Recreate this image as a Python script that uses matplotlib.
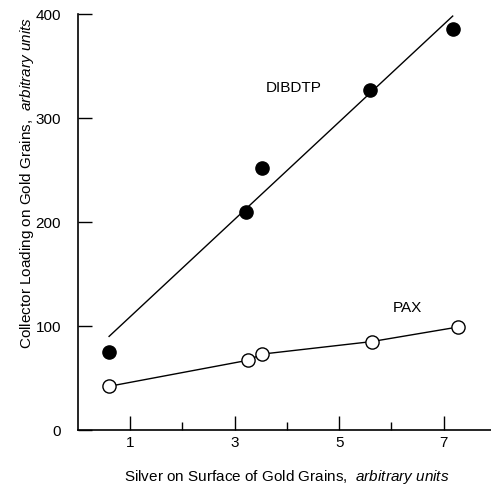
import matplotlib
matplotlib.use("Agg")
import matplotlib.pyplot as plt
import numpy as np

plt.rcParams['font.family'] = ['Liberation Sans', 'DejaVu Sans']
plt.rcParams['mathtext.fontset'] = 'custom'
plt.rcParams['mathtext.rm'] = 'Liberation Sans'
plt.rcParams['mathtext.it'] = 'Liberation Sans:italic'

# Data
dib_x = [0.6, 3.21, 3.52, 5.58, 7.17]
dib_y = [75, 210, 252, 327, 386]
dib_line_x = [0.6, 7.17]
dib_line_y = [90, 398]

pax_x = [0.6, 3.25, 3.53, 5.62, 7.27]
pax_y = [42, 67, 73, 85, 99]

x_major = [1, 3, 5, 7]
x_minor = [2, 4, 6]
y_ticks = [0, 100, 200, 300, 400]

W, H = 491, 487
fig = plt.figure(figsize=(W/100, H/100), dpi=100)
ax = fig.add_axes([77.7/W, 1-430/H, (W-77.7)/W, (430-14)/H])

fs = 11
ax.plot(dib_line_x, dib_line_y, color='black', lw=1.0, zorder=2)
ax.plot(dib_x, dib_y, 'o', color='black', ms=9.5, zorder=3)
ax.plot(pax_x, pax_y, '-', color='black', lw=1.0, zorder=2)
ax.plot(pax_x, pax_y, 'o', mfc='white', mec='black', mew=1.0, ms=9.5, zorder=3)

ax.set_xlim(0, (W-77.7)/52.3)
ax.set_ylim(0, 400)
ax.set_xticks(x_major)
ax.set_xticks(x_minor, minor=True)
ax.set_yticks(y_ticks)
ax.tick_params(axis='x', which='major', direction='in', length=10, width=1, pad=4, labelsize=fs)
ax.tick_params(axis='x', which='minor', direction='in', length=6, width=1)
ax.tick_params(axis='y', which='major', direction='in', length=10, width=1, pad=12, labelsize=fs)
for s in ['top', 'right']:
    ax.spines[s].set_visible(False)
for s in ['left', 'bottom']:
    ax.spines[s].set_linewidth(1.2)

fig.text(294/W, 1-88/H, 'DIBDTP', fontsize=fs, ha='center', va='center')
fig.text(407/W, 1-308/H, 'PAX', fontsize=fs, ha='center', va='center')

fig.text(287/W, 1-477/H, r'Silver on Surface of Gold Grains,  $\it{arbitrary\ units}$',
         fontsize=fs, ha='center', va='center')
fig.text(27/W, 1-183/H, r'Collector Loading on Gold Grains,  $\it{arbitrary\ units}$',
         fontsize=fs, ha='center', va='center', rotation=90)

fig.savefig('out.png', dpi=100)
